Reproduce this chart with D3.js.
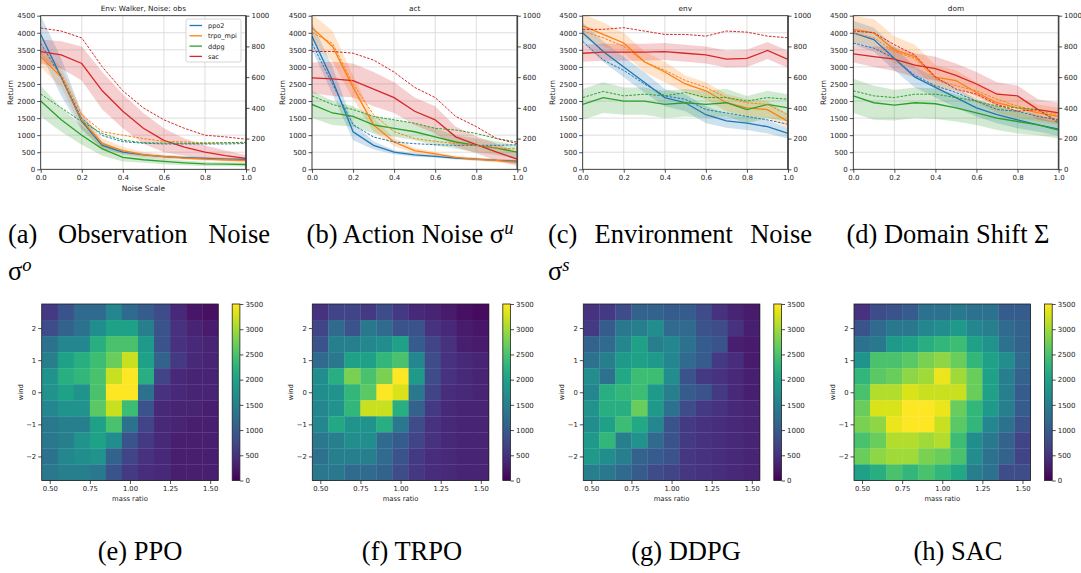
<!DOCTYPE html>
<html>
<head>
<meta charset="utf-8">
<script src="https://cdn.jsdelivr.net/npm/d3@7"></script>
<style>
  body { margin: 0; background: #fff; }
  svg text { font-family: "DejaVu Sans", sans-serif; fill: #222; }
  svg text.cap { font-family: "Liberation Serif", serif; fill: #000; }
</style>
</head>
<body>
<div class="canvas"></div>
<script>
// ---------- data ----------
const algos = ["ppo2", "trpo_mpi", "ddpg", "sac"];
const noiseScale = [0, 0.1, 0.2, 0.3, 0.4, 0.5, 0.6, 0.7, 0.8, 0.9, 1.0];

// observation noise: mean return, std band, dashed (right axis)
const obsMean = [
  [3950, 2700, 1400, 700, 500, 420, 370, 340, 320, 300, 290],
  [3300, 2700, 1450, 750, 550, 430, 370, 330, 300, 280, 260],
  [2000, 1450, 1000, 600, 350, 280, 230, 190, 160, 150, 140],
  [3450, 3350, 3100, 2300, 1700, 1200, 850, 650, 500, 400, 320]
];
const obsStd = [
  [550, 550, 250, 100, 60, 50, 40, 40, 40, 40, 40],
  [300, 300, 250, 150, 100, 80, 60, 50, 50, 50, 50],
  [450, 350, 280, 200, 120, 90, 80, 70, 60, 60, 60],
  [350, 400, 500, 550, 500, 450, 350, 250, 200, 150, 100]
];
const obsDash = [
  [820, 600, 330, 220, 180, 170, 165, 165, 165, 165, 168],
  [755, 620, 355, 245, 222, 200, 182, 178, 173, 173, 173],
  [490, 400, 310, 233, 190, 173, 171, 169, 169, 173, 176],
  [920, 900, 855, 667, 511, 400, 322, 267, 222, 211, 196]
];

// action noise
const actMean = [
  [3900, 2600, 1100, 700, 500, 420, 380, 330, 300, 260, 240],
  [4150, 3600, 2400, 1300, 800, 550, 450, 350, 290, 260, 200],
  [1900, 1650, 1550, 1300, 1200, 1100, 950, 800, 700, 620, 500],
  [2680, 2650, 2600, 2350, 2100, 1700, 1450, 950, 720, 500, 300]
];
const actStd = [
  [400, 400, 250, 120, 60, 50, 40, 40, 40, 40, 40],
  [400, 450, 350, 200, 120, 80, 60, 50, 50, 50, 50],
  [400, 350, 300, 250, 250, 250, 250, 200, 200, 200, 200],
  [450, 500, 500, 500, 450, 400, 400, 300, 250, 250, 200]
];
const actDash = [
  [820, 555, 290, 210, 178, 167, 160, 156, 156, 156, 160],
  [890, 820, 555, 355, 245, 200, 182, 167, 156, 138, 133],
  [478, 422, 389, 344, 322, 300, 267, 256, 233, 200, 178],
  [767, 767, 756, 711, 633, 533, 467, 344, 278, 200, 167]
];

// environment noise
const envMean = [
  [4000, 3450, 3000, 2550, 2100, 1950, 1600, 1420, 1350, 1250, 1050],
  [4200, 3950, 3700, 3150, 2850, 2500, 2300, 1950, 1800, 1750, 1400],
  [1900, 2100, 2000, 2000, 1900, 1950, 1900, 1950, 1750, 1900, 1800],
  [3400, 3430, 3430, 3430, 3450, 3400, 3350, 3230, 3250, 3480, 3220]
];
const envStd = [
  [300, 300, 300, 300, 250, 250, 250, 200, 200, 200, 150],
  [350, 350, 300, 300, 300, 250, 250, 250, 250, 250, 200],
  [450, 450, 400, 400, 400, 400, 400, 400, 400, 400, 400],
  [250, 250, 250, 250, 250, 250, 250, 250, 250, 250, 250]
];
const envDash = [
  [833, 711, 644, 556, 478, 456, 389, 367, 344, 322, 293],
  [900, 856, 800, 700, 644, 578, 533, 467, 433, 422, 356],
  [467, 507, 478, 489, 478, 500, 467, 467, 444, 467, 456],
  [911, 911, 922, 900, 878, 878, 867, 900, 893, 867, 856]
];

// domain shift
const domMean = [
  [4000, 3800, 3250, 2700, 2400, 2100, 1800, 1600, 1450, 1300, 1180],
  [4100, 4000, 3500, 3300, 2700, 2600, 2250, 1950, 1800, 1650, 1550],
  [2150, 1950, 1880, 1950, 1920, 1800, 1650, 1500, 1400, 1300, 1150],
  [3380, 3300, 3230, 3050, 2950, 2750, 2500, 2200, 2150, 1750, 1650]
];
const domStd = [
  [350, 350, 350, 300, 300, 300, 250, 250, 250, 200, 200],
  [400, 400, 400, 350, 350, 300, 300, 300, 300, 250, 250],
  [500, 500, 450, 450, 450, 400, 350, 350, 350, 300, 250],
  [250, 300, 350, 350, 350, 350, 350, 350, 300, 300, 300]
];
const domDash = [
  [822, 789, 722, 611, 544, 500, 444, 389, 378, 344, 322],
  [889, 856, 767, 722, 589, 544, 511, 456, 411, 378, 356],
  [511, 478, 467, 489, 489, 467, 444, 411, 400, 389, 311],
  [900, 889, 811, 744, 600, 522, 489, 422, 378, 389, 300]
];

// heatmaps: rows from wind 2.5 (top) down to -2.5, columns mass ratio 0.5 .. 1.5
const massRatio = [0.5, 0.6, 0.7, 0.8, 0.9, 1.0, 1.1, 1.2, 1.3, 1.4, 1.5];
const wind = [2.5, 2.0, 1.5, 1.0, 0.5, 0.0, -0.5, -1.0, -1.5, -2.0, -2.5];

const ppoGrid = [
  [600, 900, 1200, 1200, 1600, 1200, 1000, 800, 400, 200, 150],
  [800, 1100, 1300, 1700, 2000, 2000, 1500, 900, 500, 350, 250],
  [1300, 1600, 1600, 2200, 2500, 2500, 1900, 900, 500, 400, 350],
  [1500, 2000, 2200, 2400, 2700, 3200, 2000, 1100, 600, 400, 350],
  [1800, 2200, 2300, 2500, 3200, 3500, 2200, 700, 400, 350, 350],
  [1800, 2000, 1800, 2500, 3500, 3500, 1300, 500, 400, 350, 350],
  [1600, 1800, 1800, 2600, 3200, 2400, 900, 400, 350, 350, 300],
  [1400, 1500, 1500, 2000, 2500, 1300, 700, 400, 350, 300, 300],
  [1400, 1500, 1800, 2000, 1700, 900, 600, 400, 300, 300, 300],
  [1300, 1600, 1700, 1800, 1100, 700, 500, 400, 300, 300, 300],
  [1400, 1500, 1500, 1400, 900, 600, 450, 400, 300, 300, 300]
];
const trpoGrid = [
  [500, 700, 700, 600, 800, 600, 400, 350, 250, 150, 100],
  [700, 1200, 900, 1400, 1200, 900, 900, 500, 400, 250, 200],
  [900, 1500, 1500, 1600, 1700, 2000, 1000, 700, 500, 300, 250],
  [1200, 1400, 2000, 2000, 2300, 2500, 1600, 800, 500, 400, 350],
  [1700, 2200, 2800, 2500, 2800, 3500, 1900, 800, 500, 400, 350],
  [1700, 1800, 2300, 2600, 3500, 3300, 1400, 700, 450, 400, 350],
  [1600, 1800, 2300, 3200, 3200, 2200, 1100, 600, 400, 350, 350],
  [1600, 2100, 1800, 1800, 2200, 1400, 800, 500, 400, 350, 350],
  [1400, 1500, 1700, 1700, 1200, 1000, 700, 500, 400, 350, 350],
  [1300, 1500, 1500, 1500, 1200, 900, 600, 450, 400, 350, 350],
  [1400, 1400, 1200, 1200, 1100, 800, 550, 450, 400, 350, 350]
];
const ddpgGrid = [
  [500, 600, 800, 1100, 1100, 1000, 1000, 800, 500, 350, 250],
  [600, 1000, 1400, 1500, 1700, 1200, 1200, 900, 800, 500, 300],
  [1100, 1200, 1600, 2000, 1500, 1600, 1300, 1000, 900, 300, 250],
  [1300, 1500, 1900, 2000, 1900, 1600, 1200, 1000, 600, 450, 250],
  [1700, 1300, 2100, 2400, 2400, 1700, 900, 600, 500, 400, 300],
  [1600, 2200, 2300, 2400, 1900, 1500, 1000, 900, 600, 400, 300],
  [1800, 2200, 2200, 2700, 1900, 1300, 800, 600, 500, 400, 350],
  [1700, 2000, 2400, 2100, 1600, 900, 600, 500, 450, 400, 350],
  [1900, 2300, 1500, 1800, 1200, 900, 600, 500, 450, 400, 350],
  [1900, 1700, 1500, 1100, 1000, 900, 550, 500, 450, 400, 350],
  [1500, 1400, 1200, 1000, 800, 700, 550, 500, 450, 400, 350]
];
const sacGrid = [
  [500, 800, 900, 1000, 1300, 1300, 1400, 1300, 1300, 1000, 1000],
  [900, 1200, 1400, 1400, 1600, 1700, 1900, 1600, 1500, 1200, 1100],
  [1300, 1400, 1900, 2000, 2200, 2300, 2400, 2000, 1800, 1300, 1100],
  [1800, 2500, 2500, 2600, 2800, 2900, 2700, 2300, 2000, 1700, 1200],
  [2300, 2600, 2700, 2900, 3000, 3400, 3000, 2700, 2000, 1500, 1100],
  [2500, 3100, 3100, 3300, 3200, 3200, 3200, 2700, 2000, 1500, 1000],
  [2700, 3300, 3300, 3500, 3500, 3400, 2700, 2300, 1900, 1500, 1000],
  [2800, 2900, 3400, 3500, 3500, 3200, 2600, 2300, 1600, 1300, 900],
  [2500, 2700, 3100, 3100, 3000, 3100, 2400, 1700, 1400, 1100, 700],
  [2700, 2900, 3000, 3000, 2800, 2700, 2500, 1700, 1300, 1100, 700],
  [2000, 2200, 2500, 2300, 2500, 2300, 2100, 1500, 1300, 800, 800]
];

// ---------- layout ----------
const w = 1081;
const h = 573;
const colors = ["#1f77b4", "#ff7f0e", "#2ca02c", "#d62728"];
const lpTop = 15.7;
const lpWidth = 205.3;
const lpHeight = 169.3 - lpTop;

const svg = d3.select(".canvas").append("svg").attr("width", w).attr("height", h);
const defs = svg.append("defs");

const linePanels = [
  { left: 40.7, title: "Env: Walker, Noise: obs", mean: obsMean, std: obsStd, dash: obsDash },
  { left: 312, title: "act", mean: actMean, std: actStd, dash: actDash },
  { left: 582.7, title: "env", mean: envMean, std: envStd, dash: envDash },
  { left: 853.3, title: "dom", mean: domMean, std: domStd, dash: domDash }
];

function styleAxis(sel, size) {
  sel.select(".domain").remove();
  sel.selectAll(".tick line").attr("stroke", "#222").attr("stroke-width", 0.8);
  sel.selectAll(".tick text").attr("font-size", size).attr("fill", "#222").attr("font-family", "DejaVu Sans");
}

linePanels.forEach((p, i) => {
  const g = svg.append("g").attr("transform", `translate(${p.left}, ${lpTop})`);
  const x = d3.scaleLinear().domain([0, 1]).range([0, lpWidth]);
  const y = d3.scaleLinear().domain([0, 4500]).range([lpHeight, 0]);
  const yR = d3.scaleLinear().domain([0, 1000]).range([lpHeight, 0]);

  defs.append("clipPath").attr("id", "clip" + i)
    .append("rect").attr("width", lpWidth).attr("height", lpHeight);

  // grid
  g.append("g").selectAll("line").data(x.ticks(5)).join("line")
    .attr("x1", d => x(d)).attr("x2", d => x(d)).attr("y1", 0).attr("y2", lpHeight)
    .attr("stroke", "#d6d6d6").attr("stroke-width", 0.8);
  g.append("g").selectAll("line").data(d3.range(0, 4501, 500)).join("line")
    .attr("x1", 0).attr("x2", lpWidth).attr("y1", d => y(d)).attr("y2", d => y(d))
    .attr("stroke", "#d6d6d6").attr("stroke-width", 0.8);

  const plot = g.append("g").attr("clip-path", `url(#clip${i})`);

  // std bands
  p.mean.forEach((m, k) => {
    const area = d3.area()
      .x((d, j) => x(noiseScale[j]))
      .y0((d, j) => y(d - p.std[k][j]))
      .y1((d, j) => y(d + p.std[k][j]));
    plot.append("path").attr("d", area(m)).attr("fill", colors[k]).attr("fill-opacity", 0.22);
  });
  // mean lines
  const line = d3.line().x((d, j) => x(noiseScale[j])).y(d => y(d));
  p.mean.forEach((m, k) => {
    plot.append("path").attr("d", line(m)).attr("fill", "none")
      .attr("stroke", colors[k]).attr("stroke-width", 1.3);
  });
  // dashed lines on the right axis
  const lineR = d3.line().x((d, j) => x(noiseScale[j])).y(d => yR(d));
  p.dash.forEach((m, k) => {
    plot.append("path").attr("d", lineR(m)).attr("fill", "none")
      .attr("stroke", colors[k]).attr("stroke-width", 1)
      .attr("stroke-dasharray", "2.6,1.4");
  });

  // frame
  g.append("rect").attr("width", lpWidth).attr("height", lpHeight)
    .attr("fill", "none").attr("stroke", "#222").attr("stroke-width", 0.8);
  g.append("line").attr("x1", lpWidth).attr("x2", lpWidth).attr("y1", 0).attr("y2", lpHeight)
    .attr("stroke", "#444").attr("stroke-width", 1.6);

  // axes
  g.append("g").call(d3.axisLeft(y).tickValues(d3.range(0, 4501, 500)).tickFormat(d3.format("d")).tickSize(3.5).tickPadding(2))
    .call(s => styleAxis(s, 7));
  g.append("g").attr("transform", `translate(${lpWidth},0)`)
    .call(d3.axisRight(yR).tickValues(d3.range(0, 1001, 200)).tickFormat(d3.format("d")).tickSize(3.5).tickPadding(2))
    .call(s => styleAxis(s, 7));
  g.append("g").attr("transform", `translate(0,${lpHeight})`)
    .call(d3.axisBottom(x).ticks(5).tickFormat(d3.format(".1f")).tickSize(3.5).tickPadding(2))
    .call(s => styleAxis(s, 7));

  g.append("text").attr("x", lpWidth / 2).attr("y", -5).attr("text-anchor", "middle")
    .attr("font-size", 7.3).text(p.title);
  g.append("text").attr("transform", `translate(-27.5, ${lpHeight / 2}) rotate(-90)`)
    .attr("text-anchor", "middle").attr("font-size", 7.5).text("Return");
});

// x label only on first panel
svg.append("text").attr("x", 40.7 + lpWidth / 2).attr("y", 191).attr("text-anchor", "middle")
  .attr("font-size", 7.5).text("Noise Scale");

// legend in first panel
const legend = svg.append("g").attr("transform", "translate(186, 19)");
legend.append("rect").attr("width", 55).attr("height", 43).attr("rx", 2)
  .attr("fill", "#fff").attr("fill-opacity", 0.85).attr("stroke", "#ccc").attr("stroke-width", 0.8);
algos.forEach((a, k) => {
  const ly = 6.5 + k * 10.3;
  legend.append("line").attr("x1", 3.5).attr("x2", 16).attr("y1", ly).attr("y2", ly)
    .attr("stroke", colors[k]).attr("stroke-width", 1.3);
  legend.append("text").attr("x", 22).attr("y", ly + 2.4).attr("font-size", 6.5).text(a);
});

// ---------- heatmaps ----------
const hmTop = 304;
const hmSize = 176.5;
const heatPanels = [
  { left: 41.7, grid: ppoGrid },
  { left: 312.3, grid: trpoGrid },
  { left: 583.3, grid: ddpgGrid },
  { left: 854, grid: sacGrid }
];
const color = d3.scaleSequential(d3.interpolateViridis).domain([0, 3500]);

const grad = defs.append("linearGradient").attr("id", "viridis")
  .attr("x1", 0).attr("x2", 0).attr("y1", 1).attr("y2", 0);
d3.range(0, 1.0001, 0.05).forEach(t => {
  grad.append("stop").attr("offset", t).attr("stop-color", d3.interpolateViridis(t));
});

heatPanels.forEach(p => {
  const g = svg.append("g").attr("transform", `translate(${p.left}, ${hmTop})`);
  const x = d3.scaleLinear().domain([0.45, 1.55]).range([0, hmSize]);
  const y = d3.scaleLinear().domain([-2.75, 2.75]).range([hmSize, 0]);
  const cells = [];
  wind.forEach((wv, r) => massRatio.forEach((mv, c) => cells.push({ m: mv, w: wv, v: p.grid[r][c] })));
  g.selectAll("rect.cell").data(cells).join("rect").attr("class", "cell")
    .attr("x", d => x(d.m - 0.05)).attr("y", d => y(d.w + 0.25))
    .attr("width", x(0.55) - x(0.45) + 0.3).attr("height", y(0) - y(0.5) + 0.3)
    .attr("fill", d => color(d.v));
  g.append("rect").attr("width", hmSize).attr("height", hmSize)
    .attr("fill", "none").attr("stroke", "#222").attr("stroke-width", 0.8);

  g.append("g").attr("transform", `translate(0,${hmSize})`)
    .call(d3.axisBottom(x).tickValues([0.5, 0.75, 1.0, 1.25, 1.5]).tickFormat(d3.format(".2f")).tickSize(3.5).tickPadding(2))
    .call(s => styleAxis(s, 6.8));
  g.append("g")
    .call(d3.axisLeft(y).tickValues([-2, -1, 0, 1, 2]).tickFormat(d => d < 0 ? "\u2212" + Math.abs(d) : d).tickSize(3.5).tickPadding(2))
    .call(s => styleAxis(s, 6.8));
  g.append("text").attr("x", hmSize / 2).attr("y", 197).attr("text-anchor", "middle")
    .attr("font-size", 6.8).text("mass ratio");
  g.append("text").attr("transform", `translate(-19, ${hmSize / 2}) rotate(-90)`)
    .attr("text-anchor", "middle").attr("font-size", 6.8).text("wind");

  // colorbar
  const cb = g.append("g").attr("transform", `translate(${hmSize + 14}, 0)`);
  const cy = d3.scaleLinear().domain([0, 3500]).range([hmSize, 0]);
  cb.append("rect").attr("width", 7.7).attr("height", hmSize).attr("fill", "url(#viridis)")
    .attr("stroke", "#222").attr("stroke-width", 0.8);
  cb.append("g").attr("transform", "translate(7.7,0)")
    .call(d3.axisRight(cy).tickValues(d3.range(0, 3501, 500)).tickFormat(d3.format("d")).tickSize(3.5).tickPadding(2))
    .call(s => styleAxis(s, 7));
});

// ---------- captions ----------
const capSize = 26.5;
function capText(x, y, anchor) {
  return svg.append("text").attr("class", "cap").attr("x", x).attr("y", y)
    .attr("font-size", capSize).attr("text-anchor", anchor || "start");
}
// justified line: words spread between x0 and x1
function justify(words, x0, x1, y) {
  const nodes = words.map(t => capText(0, y).text(t));
  const widths = nodes.map(n => n.node().getComputedTextLength());
  const gap = (x1 - x0 - d3.sum(widths)) / (words.length - 1);
  let cx = x0;
  nodes.forEach((n, k) => { n.attr("x", cx); cx += widths[k] + gap; });
}
function sigma(x, y, sup) {
  const t = capText(x, y);
  t.append("tspan").text("\u03c3");
  t.append("tspan").attr("font-style", "italic").attr("font-size", capSize * 0.7)
    .attr("dy", -9).text(sup);
}

justify(["(a)", "Observation", "Noise"], 8, 270, 243);
sigma(8, 280, "o");
const capB = capText(410, 243, "middle");
capB.append("tspan").text("(b) Action Noise \u03c3");
capB.append("tspan").attr("font-style", "italic").attr("font-size", capSize * 0.7).attr("dy", -9).text("u");
justify(["(c)", "Environment", "Noise"], 548, 812, 243);
sigma(548, 280, "s");
capText(948, 243, "middle").text("(d) Domain Shift \u03a3");

const bottomCaps = ["(e) PPO", "(f) TRPO", "(g) DDPG", "(h) SAC"];
const bottomX = [140, 412, 686, 958];
bottomCaps.forEach((c, k) => capText(bottomX[k], 560, "middle").text(c));
</script>
</body>
</html>
